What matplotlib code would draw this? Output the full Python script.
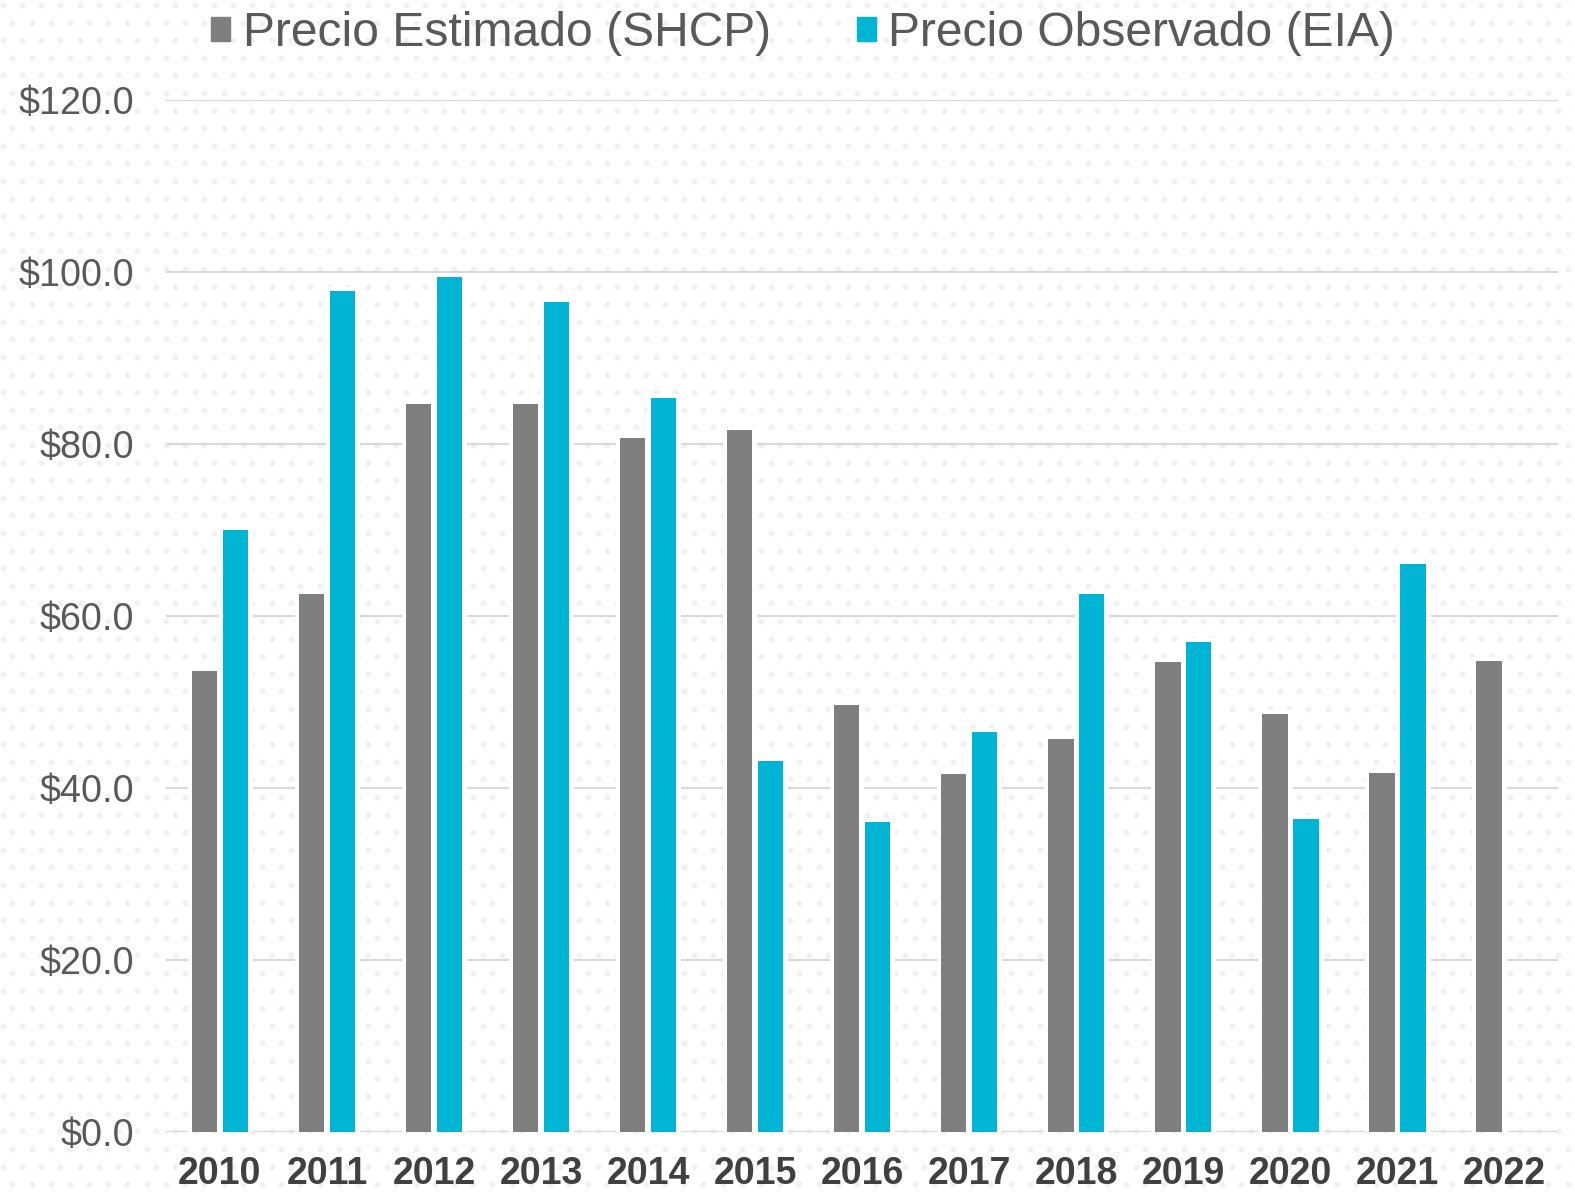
import numpy as np
import matplotlib
matplotlib.use("Agg")
import matplotlib.pyplot as plt
import matplotlib.patheffects as pe
from matplotlib.patches import Rectangle

plt.rcParams['font.family'] = ['Liberation Sans', 'DejaVu Sans']

years = ["2010", "2011", "2012", "2013", "2014", "2015", "2016",
         "2017", "2018", "2019", "2020", "2021", "2022"]
precio_estimado = [53.6, 62.6, 84.6, 84.6, 80.7, 81.6, 49.7,
                   41.6, 45.7, 54.7, 48.6, 41.8, 54.8]
precio_observado = [70.0, 97.8, 99.4, 96.5, 85.4, 43.1, 36.0,
                    46.5, 62.6, 57.0, 36.4, 66.1]
y_ticks = [0, 20, 40, 60, 80, 100, 120]
legend_labels = ["Precio Estimado (SHCP)", "Precio Observado (EIA)"]

GRAY = "#7f7f7f"
CYAN = "#00b4d3"
W, H = 1575, 1193

fig = plt.figure(figsize=(W / 100, H / 100), dpi=100)
fig.patch.set_facecolor("white")

# dotted background texture
bg = fig.add_axes([0, 0, 1, 1], zorder=0)
bg.set_xlim(0, W)
bg.set_ylim(H, 0)
bg.axis("off")
dx, dy = 19.2, 17.6
rows = np.arange(5, H + dy, dy)
xs_list, ys_list = [], []
for i, yy in enumerate(rows):
    o = 2.7 if i % 2 == 0 else 2.7 + dx / 2
    xx = np.arange(o, W + dx, dx)
    xs_list.append(xx)
    ys_list.append(np.full_like(xx, yy))
bg.scatter(np.concatenate(xs_list), np.concatenate(ys_list), s=18,
           color="#f1f1f1", linewidths=0)

left, right, zero_px, top_px = 166.3, 1558, 1132, 100
ax = fig.add_axes([left / W, 1 - zero_px / H, (right - left) / W, (zero_px - top_px) / H], zorder=1)
ax.patch.set_alpha(0)

x = np.arange(len(years))
bw = 0.238
off = 0.1443
halo = [pe.Stroke(linewidth=6.5, foreground="white"), pe.Normal()]
b1 = ax.bar(x - off, precio_estimado, bw, color=GRAY, linewidth=0, zorder=3)
xo = x[:len(precio_observado)]
b2 = ax.bar(xo + off, precio_observado, bw, color=CYAN, linewidth=0, zorder=3)
for p in list(b1) + list(b2):
    p.set_path_effects(halo)

ax.set_xlim(-0.5, len(years) - 0.5)
ax.set_ylim(0, 120)
ax.set_yticks(y_ticks)
ax.set_yticklabels([f"${v:.1f}" for v in y_ticks], fontsize=27.2, color="#595959")
ax.set_xticks(x)
ax.set_xticklabels(years, fontsize=27, fontweight="bold", color="#404040")
ax.tick_params(axis="y", length=0, pad=23)
ax.tick_params(axis="x", length=0, pad=17)
for s in ax.spines.values():
    s.set_visible(False)
ax.set_axisbelow(True)
ax.yaxis.grid(True, color="#d9d9d9", linewidth=1.6, zorder=1)
ax.xaxis.grid(False)

handles = [Rectangle((0, 0), 1, 1, color=GRAY), Rectangle((0, 0), 1, 1, color=CYAN)]
leg = fig.legend(handles, legend_labels, loc="center", bbox_to_anchor=(0.510, 1 - 34 / H),
                 ncol=2, frameon=False, fontsize=34.6, handlelength=0.4, handleheight=0.4,
                 handletextpad=0.25, columnspacing=1.8, borderpad=0, borderaxespad=0)
for t in leg.get_texts():
    t.set_color("#595959")

fig.savefig("out.png", dpi=100, facecolor="white")
